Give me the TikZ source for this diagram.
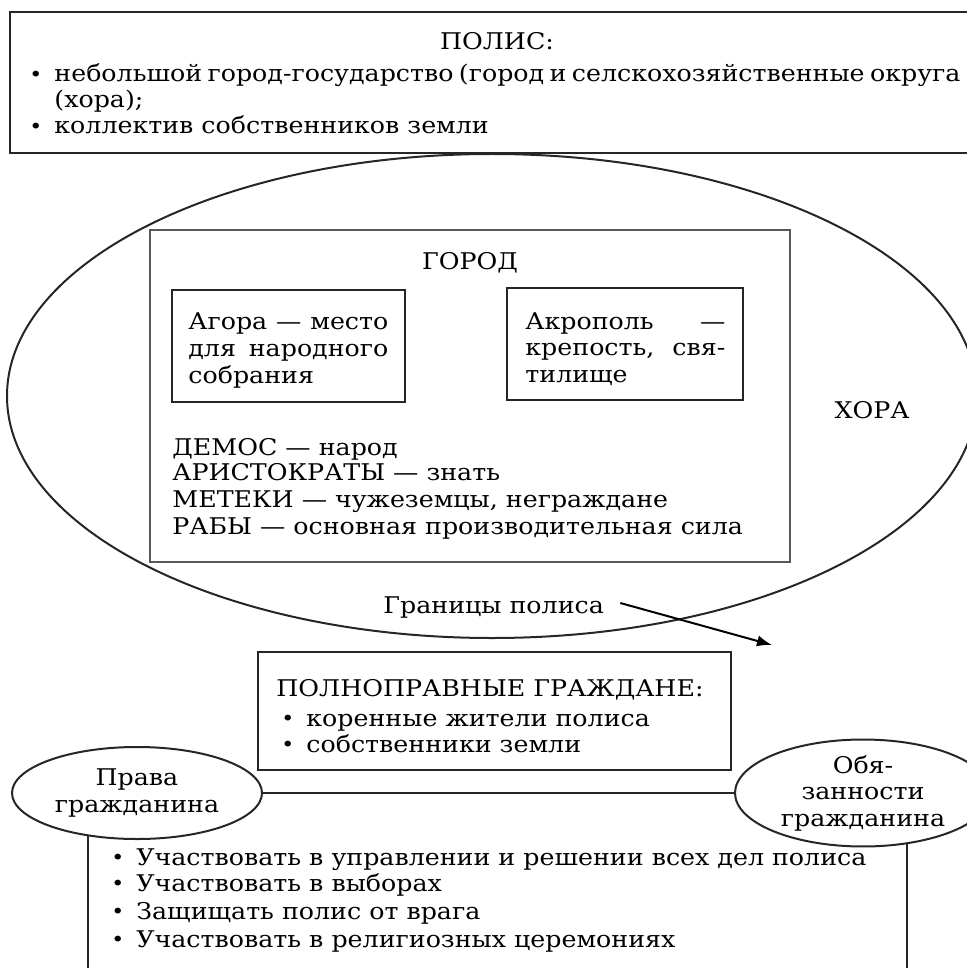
\documentclass[tikz,border=0pt]{standalone}
\usepackage{fontspec}
\setmainfont{DejaVu Serif}[FakeStretch=1.1]
\usetikzlibrary{arrows.meta,positioning,shapes.geometric}

\newcommand{\blt}{\makebox[12.5pt][l]{\raisebox{0.3pt}{\fontsize{10}{10}\selectfont•}}}

\tikzset{
  frame/.style={draw=black!85,line width=1pt},
  txt/.style={anchor=base west,inner sep=0pt,font=\fontsize{11.5}{13.25}\selectfont},
  ctxt/.style={anchor=base,inner sep=0pt,font=\fontsize{11.5}{13.25}\selectfont},
  oval/.style={ellipse,draw=black!85,line width=1pt,fill=white,inner sep=0pt,
    align=center,font=\fontsize{11.5}{13.25}\selectfont}
}

\begin{document}
\begin{tikzpicture}[x=0.5pt,y=-0.5pt,>=Latex]
  \useasboundingbox (0,0) rectangle (967,968);
  % polis
  \draw[frame] (10,12) rectangle (990,153);
  \node[ctxt] (polis) at (497,50) {ПОЛИС:};
  \node[txt] (polis1) at (29,82) {\blt\makebox[452pt][s]{небольшой город-государство (город и селскохозяйственные округа}};
  \node[txt] (polis2) at (54,108) {(хора);};
  \node[txt] (polis3) at (29,134) {\blt коллектив собственников земли};
  % chora and city
  \draw[line width=1pt,black!85] (492,396) ellipse [x radius=485, y radius=242];
  \draw[frame,draw=black!65] (150,230) rectangle (790,562);
  \node[ctxt] (gorod) at (470,270) {ГОРОД};
  \draw[frame] (172,290) rectangle (405,402);
  \node[txt] (agora1) at (188,329) {\makebox[100pt][s]{Агора — место}};
  \node[txt] (agora2) at (188,356) {\makebox[100pt][s]{для народного}};
  \node[txt] (agora3) at (188,383) {собрания};
  \draw[frame] (507,288) rectangle (743,400);
  \node[txt] (akro1) at (525,329) {\makebox[100pt][s]{Акрополь —}};
  \node[txt] (akro2) at (525,355) {\makebox[100pt][s]{крепость, свя-}};
  \node[txt] (akro3) at (525,382) {тилище};
  \node[ctxt] (chora) at (872,418) {ХОРА};
  \node[txt] (demos) at (172,455) {ДЕМОС — народ};
  \node[txt] (aristo) at (172,480) {АРИСТОКРАТЫ — знать};
  \node[txt] (meteki) at (172,507) {МЕТЕКИ — чужеземцы, неграждане};
  \node[txt] (raby) at (172,534) {РАБЫ — основная производительная сила};
  \node[txt] (granicy) at (383,613) {Границы полиса};
  \coordinate (granend) at (772,645);
  \draw[->,line width=1pt] ([xshift=8pt,yshift=2pt]granicy.east) -- (granend);
  % citizens
  \draw[frame] (258,652) rectangle (731,770);
  \node[txt] (grazhd) at (276,696) {ПОЛНОПРАВНЫЕ ГРАЖДАНЕ:};
  \node[txt] (grazhd1) at (281,726) {\blt коренные жители полиса};
  \node[txt] (grazhd2) at (281,752) {\blt собственники земли};
  \draw[frame] (88,990) |- (907,793) -- (907,990);
  \node[oval,minimum width=125pt,minimum height=46pt] (prava) at (137,793) {Права\\гражданина};
  \node[oval,minimum width=128pt,minimum height=48pt] (obyaz) at (863,793) {Обя-\\занности\\гражданина};
  \draw[frame] (prava) -- (obyaz);
  \node[txt] (duty1) at (111,865) {\blt Участвовать в управлении и решении всех дел полиса};
  \node[txt] (duty2) at (111,891) {\blt Участвовать в выборах};
  \node[txt] (duty3) at (111,919) {\blt Защищать полис от врага};
  \node[txt] (duty4) at (111,947) {\blt Участвовать в религиозных церемониях};
\end{tikzpicture}
\end{document}
